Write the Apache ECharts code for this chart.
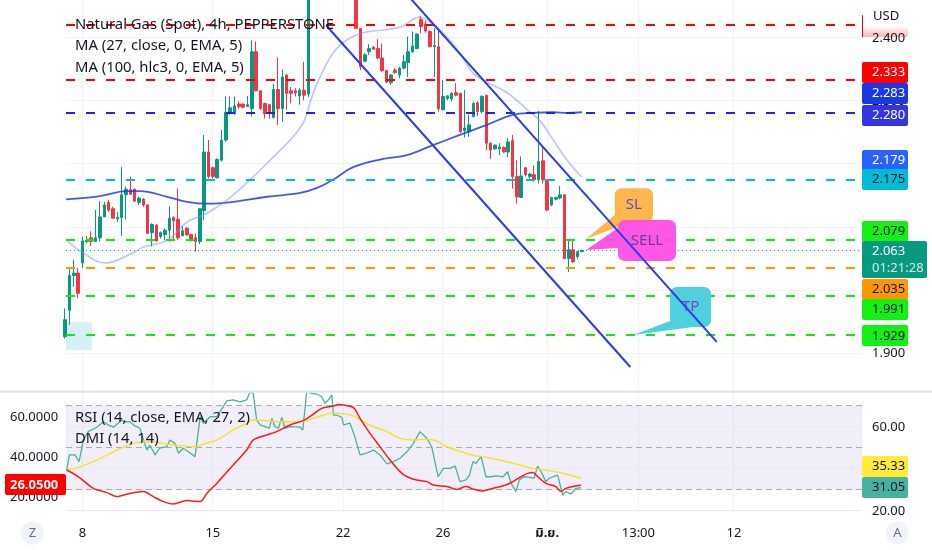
<!DOCTYPE html>
<html>
<head>
<meta charset="utf-8">
<script src="https://cdn.jsdelivr.net/npm/echarts@6/dist/echarts.min.js"></script>
<style>
html,body{margin:0;padding:0;background:#ffffff;}
#chart{width:932px;height:550px;}
</style>
</head>
<body>
<div id="chart"></div>
<script>
// ================= DATA =================
// candles: [barIndex, open, close, low, high]
const candles = [
[0,1.926,1.953,1.923,1.971],[1,1.968,2.023,1.945,2.035],[2,2.023,2.027,2.005,2.048],[3,2.027,1.995,1.987,2.035],
[4,2.043,2.078,2.035,2.085],[5,2.077,2.079,2.074,2.086],[6,2.083,2.077,2.070,2.093],[7,2.077,2.083,2.077,2.127],
[8,2.083,2.116,2.077,2.141],[9,2.116,2.135,2.116,2.140],[10,2.139,2.127,2.124,2.143],[11,2.129,2.114,2.114,2.132],
[12,2.113,2.115,2.108,2.124],[13,2.115,2.151,2.086,2.195],[14,2.151,2.160,2.112,2.164],[15,2.159,2.152,2.151,2.180],
[16,2.160,2.141,2.140,2.161],[17,2.139,2.146,2.135,2.148],[18,2.144,2.135,2.132,2.146],[19,2.135,2.090,2.089,2.136],
[20,2.091,2.104,2.069,2.106],[21,2.103,2.078,2.077,2.105],[22,2.085,2.091,2.082,2.093],[23,2.088,2.095,2.079,2.098],
[24,2.095,2.114,2.077,2.133],[25,2.115,2.110,2.079,2.117],[26,2.112,2.083,2.079,2.161],[27,2.086,2.094,2.086,2.102],
[28,2.098,2.088,2.086,2.100],[29,2.088,2.079,2.077,2.088],[30,2.083,2.077,2.061,2.090],[31,2.077,2.129,2.073,2.130],
[32,2.126,2.219,2.111,2.246],[33,2.219,2.180,2.177,2.238],[34,2.194,2.180,2.177,2.196],[35,2.178,2.207,2.177,2.209],
[36,2.206,2.238,2.204,2.254],[37,2.238,2.282,2.235,2.307],[38,2.280,2.289,2.278,2.307],[39,2.280,2.292,2.278,2.307],
[40,2.295,2.291,2.288,2.299],[41,2.295,2.290,2.288,2.296],[42,2.291,2.294,2.291,2.308],[43,2.288,2.378,2.275,2.396],
[44,2.378,2.316,2.315,2.394],[45,2.316,2.288,2.286,2.317],[46,2.296,2.280,2.272,2.297],[47,2.294,2.280,2.272,2.295],
[48,2.274,2.318,2.272,2.327],[49,2.318,2.288,2.262,2.369],[50,2.288,2.338,2.267,2.350],[51,2.341,2.312,2.286,2.343],
[52,2.316,2.312,2.296,2.322],[53,2.316,2.313,2.307,2.320],[54,2.308,2.317,2.294,2.320],[55,2.317,2.309,2.301,2.362],
[56,2.311,2.490,2.306,2.500],[57,2.490,2.530,2.475,2.545],[58,2.530,2.570,2.520,2.580],[59,2.570,2.550,2.540,2.590],
[60,2.550,2.600,2.540,2.620],[61,2.600,2.580,2.560,2.630],[62,2.580,2.560,2.540,2.600],[63,2.560,2.570,2.530,2.590],
[64,2.570,2.530,2.520,2.580],[65,2.530,2.500,2.490,2.550],[66,2.500,2.480,2.470,2.520],[67,2.480,2.415,2.414,2.490],
[68,2.415,2.354,2.349,2.415],[69,2.363,2.373,2.362,2.376],[70,2.378,2.383,2.373,2.390],[71,2.385,2.382,2.381,2.387],
[72,2.383,2.368,2.366,2.398],[73,2.368,2.348,2.346,2.391],[74,2.348,2.330,2.328,2.349],[75,2.329,2.341,2.325,2.343],
[76,2.349,2.345,2.343,2.352],[77,2.341,2.352,2.336,2.354],[78,2.352,2.362,2.350,2.373],[79,2.361,2.378,2.338,2.402],
[80,2.378,2.387,2.376,2.410],[81,2.383,2.406,2.382,2.407],[82,2.429,2.418,2.407,2.435],[83,2.422,2.411,2.408,2.427],
[84,2.410,2.386,2.385,2.412],[85,2.386,2.388,2.338,2.415],[86,2.386,2.288,2.283,2.415],[87,2.286,2.307,2.286,2.333],
[88,2.304,2.308,2.301,2.309],[89,2.303,2.312,2.299,2.314],[90,2.313,2.309,2.307,2.328],[91,2.312,2.251,2.249,2.313],
[92,2.253,2.257,2.242,2.317],[93,2.251,2.262,2.243,2.278],[94,2.275,2.296,2.274,2.299],[95,2.297,2.283,2.276,2.299],
[96,2.283,2.307,2.280,2.309],[97,2.309,2.233,2.222,2.309],[98,2.233,2.222,2.208,2.234],[99,2.224,2.230,2.222,2.230],
[100,2.224,2.227,2.214,2.233],[101,2.226,2.219,2.218,2.228],[102,2.219,2.235,2.211,2.241],[103,2.237,2.180,2.161,2.246],
[104,2.180,2.148,2.137,2.206],[105,2.147,2.181,2.146,2.212],[106,2.194,2.183,2.180,2.195],[107,2.180,2.184,2.177,2.186],
[108,2.183,2.175,2.172,2.198],[109,2.175,2.204,2.169,2.284],[110,2.205,2.175,2.169,2.227],[111,2.175,2.127,2.125,2.175],
[112,2.135,2.147,2.133,2.148],[113,2.144,2.147,2.143,2.148],[114,2.146,2.151,2.144,2.165],[115,2.151,2.050,2.049,2.152],
[116,2.050,2.064,2.029,2.079],[117,2.064,2.045,2.043,2.078],[118,2.053,2.061,2.049,2.062],[119,2.061,2.063,2.060,2.064]
];

// MA (27, close, EMA) and MA (100, hlc3, EMA) : [barIndex, value]
const ma27 = [[0.35,2.079],[4.1,2.059],[9.2,2.043],[15.6,2.059],[17.9,2.068],[23.5,2.079],[28.1,2.108],[32.7,2.122],
[37.3,2.143],[42.6,2.175],[47.9,2.211],[51.8,2.238],[54.8,2.265],[56.8,2.306],[58.7,2.338],[61.7,2.376],[64.9,2.397],
[68.6,2.408],[77.1,2.417],[81.7,2.433],[84.0,2.425],[87.0,2.408],[90.9,2.376],[93.9,2.344],[97.1,2.330],[101.8,2.313],
[106.4,2.286],[109.4,2.268],[112.4,2.238],[115.6,2.206],[119.0,2.179]];
const ma100 = [[0.2,2.144],[8.0,2.149],[14.2,2.157],[17.2,2.157],[23.5,2.148],[28.1,2.140],[32.7,2.137],[38.7,2.140],
[46.5,2.148],[54.1,2.154],[58.0,2.162],[61.7,2.175],[66.3,2.195],[73.2,2.208],[78.7,2.214],[84.7,2.230],[90.9,2.246],
[97.1,2.262],[103.1,2.278],[107.7,2.281],[112.4,2.282],[115.6,2.281],[119.0,2.282]];

// RSI (14), its EMA(27), DMI line : [barIndex, value]
const rsi = [[0.35,39.5],[0.96,46.7],[2.26,46.7],[3.2,43.5],[4.2,53.8],[5.3,57.8],[7.3,59.9],[8.8,62.5],[9.9,61],
[11.1,59.9],[12.2,61.8],[13.0,63.3],[13.8,62.5],[14.9,62.5],[16.1,60.5],[17.2,59.4],[18.8,49],[19.5,51.4],[20.7,46.7],
[21.8,49.9],[23.4,50.6],[24.1,53.8],[25.3,52.2],[26.1,47.5],[27.2,49.9],[28.4,48.2],[29.9,45.9],[30.7,58.6],[31.1,64.9],
[31.8,61.8],[33.4,64.9],[34.9,64.9],[36.4,69.7],[37.2,72.4],[38.7,72.9],[40.3,72],[41.8,72.9],[42.6,76.8],[43.3,76],
[44.1,63.3],[44.9,61],[46.4,59.9],[47.0,59.4],[47.6,64.1],[48.3,60.2],[49.1,59.4],[49.9,64.6],[50.6,59.4],[51.8,60.2],
[54.1,59.9],[54.7,58.6],[55.2,68.1],[55.6,76.8],[56.8,76],[57.9,75.7],[59.1,74.4],[59.8,71.3],[60.6,72.9],[61.4,75.2],
[61.8,65.7],[62.5,65.7],[63.7,64.6],[64.1,61],[65.6,61.8],[66.7,55.4],[67.9,46.7],[69.4,47.5],[71.0,49],[72.5,46.7],
[74.1,42.4],[75.6,43.5],[77.1,45.1],[78.7,48.2],[80.2,52.2],[81.7,57.8],[83.3,54.6],[84.4,50.6],[84.8,50.6],[85.9,36.3],
[87.1,40.3],[88.6,40.3],[89.8,41.4],[90.9,34],[92.3,34.8],[93.1,37.1],[93.9,43.5],[94.6,42.7],[95.8,45.9],[96.9,36.3],
[98.1,36.3],[99.2,36.7],[100.8,36.3],[101.9,38.7],[102.7,33.2],[103.8,29.2],[104.6,34.8],[105.7,36.3],[106.9,36],
[108.0,35.6],[108.8,41.4],[109.6,38.7],[110.7,34],[111.5,35.6],[112.3,36.3],[113.4,37.1],[113.8,37.9],[114.6,27.6],
[115.3,29.2],[116.5,28.1],[117.6,30.8],[118.8,31.1]];
const rsiMa = [[0.35,39.5],[3.0,40.8],[6.5,43.5],[11.1,48.2],[15.7,52.2],[19.5,53],[23.4,51.9],[27.2,51],[30.3,50.6],
[31.8,51.9],[34.9,53.8],[38.7,58.6],[41.8,61.8],[43.3,63.3],[46.4,63],[50.2,62.5],[54.1,62.5],[57.2,64.1],[60.2,66.2],
[61.8,66.8],[64.1,66.2],[66.4,65.2],[67.9,63.3],[71.0,60.2],[74.1,57.8],[77.1,54.6],[80.2,53.8],[82.5,54.1],[84.8,53.8],
[87.9,50.6],[92.3,47.5],[94.6,46.2],[96.2,45.9],[100.0,44.3],[103.8,42.4],[107.7,40.3],[111.5,39.2],[115.3,37.6],[118.8,35.6]];
const dmi = [[0.35,33.5],[3.0,30.2],[6.5,24.3],[9.6,22.2],[11.9,20.2],[14.9,21.8],[18.0,22.7],[20.3,20.2],[22.6,17.7],
[24.9,16.5],[28.0,18.2],[31.1,17.7],[32.6,21.8],[34.9,26.8],[38.7,36],[41.8,43.5],[43.3,48.5],[46.4,51],[48.7,52.7],
[51.8,56],[54.8,58.2],[57.2,61.5],[59.1,64.3],[61.8,65.5],[62.9,66.3],[64.1,66],[66.4,64.7],[67.9,59.3],[70.2,51.8],
[72.5,45.2],[74.8,38.5],[77.1,32.7],[78.7,30.2],[80.9,28.5],[83.3,27.7],[84.8,26],[87.9,25.2],[90.2,23.8],[92.3,25.2],
[93.9,24],[95.8,23],[98.5,24.3],[101.5,26],[103.1,27.7],[105.0,30.2],[106.5,31.8],[107.7,32.2],[108.8,30.2],[110.7,26.8],
[113.0,25.2],[114.2,22.7],[115.3,24.3],[117.6,25.5],[118.8,26.05]];

// horizontal drawings, current price, channel, callouts, zone
const levelValues = [2.420, 2.333, 2.281, 2.175, 2.079, 2.035, 1.991, 1.929];
const lastPrice = 2.063;
const clockText = '01:21:28';
const channelUpper = [[75.7, 2.492], [150.05, 1.918]];
const channelLower = [[60.07, 2.420], [130.15, 1.878]];
const calloutText = ['SL', 'SELL', 'TP'];
const calloutBox = [[126.56, 2.1614, 135.38, 2.1079], [127.3, 2.1111, 140.68, 2.0460], [139.3, 2.0048, 148.74, 1.9414]];
const calloutTip = [[119.95, 2.081], [119.95, 2.0635], [130.8, 1.9287]];
const zoneBox = [0.19, 1.949, 6.18, 1.905];

// axis ticks and tags
const priceTicks = [1.9, 2.0, 2.1, 2.2, 2.3, 2.4];
const rsiTicks = [20, 40, 60];
const dmiTicks = [20, 40, 60];
const rsiBands = [30, 50, 70];
const timeTickIndex = [4, 34, 64, 87, 111, 132, 154];
const timeTickLabels = ['8', '15', '22', '26', 'มิ.ย.', '13:00', '12'];
const priceTagValues = [2.333, 2.283, 2.280, 2.179, 2.175, 2.079, 2.063, 2.035, 1.991, 1.929];
const rsiTagValues = [35.33, 31.05];
const dmiTagValue = 26.05;

// ================= STYLE =================
const FONT = '"Noto Sans", "Noto Sans Thai", "DejaVu Sans", sans-serif';
const X_MIN = 0.19, X_MAX = 183.5;
const UP = '#089981', DOWN = '#f23645', TXT = '#131722', GRIDC = '#f0f3fa';
const levelColors = ['#ff0000', '#ff0000', '#2424e0', '#00bcd4', '#14e814', '#ff9800', '#14e814', '#14e814'];
const tagBg = ['#ff0000', '#1a38e8', '#3434e2', '#2962ff', '#00bcd4', '#14f014', '#089981', '#ff9800', '#14f014', '#14f014'];
const tagFg = ['#ffffff', '#ffffff', '#ffffff', '#ffffff', TXT, TXT, '#ffffff', TXT, TXT, TXT];
const tagShift = [-8, -18, 1.5, -17, 0, -9, 9.2, 21, 14, 1];
const calloutStyle = [
  {fill: '#ffb74d', color: '#5b4bc4', ax: 0, ay: -7, bx: 16, by: 0},
  {fill: 'rgba(252,74,227,0.93)', color: '#713a9e', ax: 0, ay: -33, bx: 0, by: -13},
  {fill: '#4fd0df', color: '#7744c4', ax: 0, ay: -6, bx: 23, by: 0}
];

function txt(text, x, y, color, font, align) {
  return {type: 'text', style: {text: text, x: x, y: y, fill: color || TXT, font: font || ('13px ' + FONT),
    align: align || 'left', verticalAlign: 'middle'}};
}

function hLines(xi, yi, values, styleAt, z) {
  return {
    type: 'custom', xAxisIndex: xi, yAxisIndex: yi, z: z, silent: true, clip: true,
    data: values.map(v => [X_MIN + 1, v]), encode: {x: 0, y: 1},
    renderItem: function (params, api) {
      const cs = params.coordSys;
      const st = styleAt(params.dataIndex);
      let y = api.coord([api.value(0), api.value(1)])[1];
      if ((st.lineWidth || 1) % 2 === 1) y = Math.round(y - 0.5) + 0.5; else y = Math.round(y);
      return {type: 'line', shape: {x1: cs.x, y1: y, x2: cs.x + cs.width, y2: y},
        style: Object.assign({fill: null}, st)};
    }
  };
}
function vLines(xi, yi, yRef, z) {
  return {
    type: 'custom', xAxisIndex: xi, yAxisIndex: yi, z: z, silent: true, clip: true,
    data: timeTickIndex.map(i => [i, yRef]), encode: {x: 0, y: 1},
    renderItem: function (params, api) {
      const cs = params.coordSys;
      const x = Math.round(api.coord([api.value(0), api.value(1)])[0] - 0.5) + 0.5;
      return {type: 'line', shape: {x1: x, y1: cs.y, x2: x, y2: cs.y + cs.height},
        style: {stroke: GRIDC, lineWidth: 1, fill: null}};
    }
  };
}
function tagSeries(xi, yi, items, z) {
  return {
    type: 'custom', xAxisIndex: xi, yAxisIndex: yi, z: z, silent: true, clip: false,
    data: items.map(it => [X_MIN + 1, it.v]), encode: {x: 0, y: 1},
    renderItem: function (params, api) {
      const it = items[params.dataIndex];
      const cs = params.coordSys;
      const yv = api.coord([api.value(0), api.value(1)])[1];
      const yc = yv + (it.dy || 0);
      const h = it.h || 21, w = it.w || 46;
      const x0 = it.left ? 5 : cs.x + cs.width;
      const ch = [];
      if (it.bg) ch.push({type: 'rect', shape: {x: x0, y: Math.round(yc - h / 2), width: w, height: h, r: 2}, style: {fill: it.bg}});
      if (it.mark) ch.push({type: 'line', shape: {x1: x0 + 0.5, y1: yv - 10, x2: x0 + 0.5, y2: yv + 12}, style: {stroke: '#ff0000', lineWidth: 1}});
      const tx = it.left ? 10 : x0 + 10;
      const font = (it.bold ? 'bold ' : '') + '13px ' + FONT;
      if (it.sub) {
        ch.push(txt(it.text, tx, yc - 8, it.fg, font));
        ch.push(txt(it.sub, tx, yc + 9, 'rgba(255,255,255,0.82)', font));
      } else if (it.text) {
        ch.push(txt(it.text, tx, yc, it.fg || TXT, font));
      }
      return {type: 'group', children: ch};
    }
  };
}

// main-pane tags (first the faded top one, then ticks, then value tags)
const mainTags = [];
mainTags.push({v: levelValues[0], dy: 7.2, h: 10, mark: true,
  bg: new echarts.graphic.LinearGradient(0, 0, 0, 1, [{offset: 0, color: 'rgba(255,90,90,0.05)'}, {offset: 1, color: 'rgba(255,90,90,0.45)'}])});
priceTicks.forEach(v => mainTags.push({v: v, text: v.toFixed(3), fg: TXT}));
priceTagValues.forEach((v, k) => {
  const t = {v: v, text: v.toFixed(3), bg: tagBg[k], fg: tagFg[k], dy: tagShift[k]};
  if (Math.abs(v - lastPrice) < 1e-9) { t.sub = clockText; t.h = 37; t.w = 65; }
  mainTags.push(t);
});
const rsiTags = [];
rsiTicks.forEach(v => rsiTags.push({v: v, text: v.toFixed(2), fg: TXT}));
rsiTags.push({v: rsiTagValues[0], text: rsiTagValues[0].toFixed(2), bg: '#ffeb3b', fg: TXT, dy: -12.8});
rsiTags.push({v: rsiTagValues[1], text: rsiTagValues[1].toFixed(2), bg: '#45b39f', fg: TXT, dy: 0});
const dmiTags = [];
dmiTicks.forEach(v => dmiTags.push({v: v, text: v.toFixed(4), fg: TXT, left: true}));
dmiTags.push({v: dmiTagValue, text: dmiTagValue.toFixed(4), bg: '#ff0000', fg: '#ffffff', left: true, w: 61, bold: true});

const series = [
  vLines(0, 0, 2.0, 0),
  hLines(0, 0, priceTicks, () => ({stroke: GRIDC, lineWidth: 1}), 0),
  { // light zone rectangle
    type: 'custom', xAxisIndex: 0, yAxisIndex: 0, z: 1, silent: true, clip: true,
    data: [[zoneBox[0], zoneBox[1]]], encode: {x: 0, y: 1},
    renderItem: function (params, api) {
      const a = api.coord([zoneBox[0], zoneBox[1]]), b = api.coord([zoneBox[2], zoneBox[3]]);
      return {type: 'rect', shape: {x: a[0], y: a[1], width: b[0] - a[0], height: b[1] - a[1]}, style: {fill: '#d4f2f6'}};
    }
  },
  {
    type: 'candlestick', name: 'Natural Gas', xAxisIndex: 0, yAxisIndex: 0, z: 3, clip: true,
    data: candles, encode: {x: 0, y: [1, 2, 3, 4]}, barWidth: 3,
    itemStyle: {color: UP, color0: DOWN, borderColor: UP, borderColor0: DOWN, borderWidth: 1}
  },
  {type: 'line', name: 'MA100', xAxisIndex: 0, yAxisIndex: 0, z: 4, data: ma100, symbol: 'none', smooth: 0.4,
    lineStyle: {color: 'rgba(40,58,230,0.85)', width: 1.8}},
  {type: 'line', name: 'MA27', xAxisIndex: 0, yAxisIndex: 0, z: 4, data: ma27, symbol: 'none', smooth: 0.4,
    lineStyle: {color: 'rgba(120,145,250,0.5)', width: 1.7}},
  hLines(0, 0, levelValues, k => ({stroke: levelColors[k], lineWidth: 2, lineDash: [9, 11]}), 5),
  hLines(0, 0, [lastPrice], () => ({stroke: UP, lineWidth: 1, lineDash: [1, 3]}), 5),
  { // callouts
    type: 'custom', xAxisIndex: 0, yAxisIndex: 0, z: 6, silent: true, clip: true,
    data: calloutTip.map(t => [t[0], t[1]]), encode: {x: 0, y: 1},
    renderItem: function (params, api) {
      const k = params.dataIndex, b = calloutBox[k], s = calloutStyle[k];
      const p1 = api.coord([b[0], b[1]]), p2 = api.coord([b[2], b[3]]), pt = api.coord(calloutTip[k]);
      const L = p1[0], T = p1[1], R = p2[0], B = p2[1];
      return {type: 'group', children: [
        {type: 'polygon', shape: {points: [pt, [L + s.ax, B + s.ay], [L + s.bx, B + s.by]]}, style: {fill: s.fill}},
        {type: 'rect', shape: {x: L, y: T, width: R - L, height: B - T, r: 7}, style: {fill: s.fill}},
        txt(calloutText[k], (L + R) / 2, (T + B) / 2, s.color, '15px ' + FONT, 'center')
      ]};
    }
  },
  {type: 'line', xAxisIndex: 0, yAxisIndex: 0, z: 7, data: channelUpper, symbol: 'none', silent: true,
    lineStyle: {color: '#2b3de6', width: 2}},
  {type: 'line', xAxisIndex: 0, yAxisIndex: 0, z: 7, data: channelLower, symbol: 'none', silent: true,
    lineStyle: {color: '#2b3de6', width: 2}},
  tagSeries(0, 0, mainTags, 8),

  // ---- RSI / DMI pane ----
  vLines(1, 1, 40, 0),
  { // RSI band 30..70
    type: 'custom', xAxisIndex: 1, yAxisIndex: 1, z: 0, silent: true, clip: true,
    data: [[X_MIN + 1, rsiBands[2]]], encode: {x: 0, y: 1},
    renderItem: function (params, api) {
      const cs = params.coordSys;
      const a = api.coord([X_MIN + 1, rsiBands[2]])[1], b = api.coord([X_MIN + 1, rsiBands[0]])[1];
      return {type: 'rect', shape: {x: cs.x, y: a, width: cs.width, height: b - a}, style: {fill: 'rgba(126,87,194,0.1)'}};
    }
  },
  hLines(1, 1, rsiTicks, () => ({stroke: '#e9e9f0', lineWidth: 1}), 1),
  hLines(1, 1, rsiBands, () => ({stroke: '#a9abb3', lineWidth: 1, lineDash: [6, 4]}), 1),
  {type: 'line', name: 'RSI', xAxisIndex: 1, yAxisIndex: 1, z: 4, data: rsi, symbol: 'none',
    lineStyle: {color: '#47b39d', width: 1.3}},
  {type: 'line', name: 'RSI MA', xAxisIndex: 1, yAxisIndex: 1, z: 4, data: rsiMa, symbol: 'none', smooth: 0.4,
    lineStyle: {color: '#f7e026', width: 1.4}},
  {type: 'line', name: 'DMI', xAxisIndex: 1, yAxisIndex: 2, z: 4, data: dmi, symbol: 'none', smooth: 0.3,
    lineStyle: {color: '#ff1a1a', width: 1.5}},
  tagSeries(1, 1, rsiTags, 8),
  tagSeries(1, 2, dmiTags, 8),
  { // time axis labels
    type: 'custom', xAxisIndex: 1, yAxisIndex: 1, z: 8, silent: true, clip: false,
    data: timeTickIndex.map(i => [i, 40]), encode: {x: 0, y: 1},
    renderItem: function (params, api) {
      const cs = params.coordSys;
      const x = api.coord([api.value(0), api.value(1)])[0];
      const lab = timeTickLabels[params.dataIndex];
      const bold = lab === 'มิ.ย.';
      return txt(lab, x, cs.y + cs.height + 21, TXT, (bold ? 'bold ' : '') + '13px ' + FONT, 'center');
    }
  }
];

const option = {
  backgroundColor: '#ffffff',
  animation: false,
  tooltip: {show: false},
  grid: [
    {left: 66, right: 70, top: 0, height: 391},
    {left: 66, right: 70, top: 393, height: 119}
  ],
  xAxis: [
    {type: 'value', gridIndex: 0, min: X_MIN, max: X_MAX, show: false},
    {type: 'value', gridIndex: 1, min: X_MIN, max: X_MAX, show: false}
  ],
  yAxis: [
    {type: 'value', gridIndex: 0, min: 1.84, max: 2.46, show: false},
    {type: 'value', gridIndex: 1, min: 19.52, max: 76.19, show: false},
    {type: 'value', gridIndex: 1, min: 12.5, max: 72, show: false}
  ],
  series: series,
  graphic: [
    {type: 'rect', z: 20, shape: {x: 0, y: 390.5, width: 932, height: 2.2}, style: {fill: '#e0e3eb'}},
    {type: 'text', z: 20, x: 75, y: 24.5, style: {text: 'Natural Gas (Spot), 4h, PEPPERSTONE', font: '14.8px ' + FONT, fill: TXT, verticalAlign: 'middle'}},
    {type: 'text', z: 20, x: 75, y: 46, style: {text: 'MA (27, close, 0, EMA, 5)', font: '14.8px ' + FONT, fill: TXT, verticalAlign: 'middle'}},
    {type: 'text', z: 20, x: 75, y: 67.5, style: {text: 'MA (100, hlc3, 0, EMA, 5)', font: '14.8px ' + FONT, fill: TXT, verticalAlign: 'middle'}},
    {type: 'text', z: 20, x: 75, y: 417.5, style: {text: 'RSI (14, close, EMA, 27, 2)', font: '14.8px ' + FONT, fill: TXT, verticalAlign: 'middle'}},
    {type: 'text', z: 20, x: 75, y: 439, style: {text: 'DMI (14, 14)', font: '14.8px ' + FONT, fill: TXT, verticalAlign: 'middle'}},
    {type: 'text', z: 20, x: 873, y: 16, style: {text: 'USD', font: '13px ' + FONT, fill: TXT, verticalAlign: 'middle'}},
    {type: 'circle', z: 20, shape: {cx: 32.5, cy: 533, r: 11.5}, style: {fill: '#f0f3fa'}},
    {type: 'text', z: 21, x: 32.5, y: 533, style: {text: 'Z', font: '13px ' + FONT, fill: '#6a6d78', align: 'center', verticalAlign: 'middle'}},
    {type: 'circle', z: 20, shape: {cx: 897.5, cy: 533, r: 11.5}, style: {fill: '#f0f3fa'}},
    {type: 'text', z: 21, x: 897.5, y: 533, style: {text: 'A', font: '13px ' + FONT, fill: '#6a6d78', align: 'center', verticalAlign: 'middle'}}
  ]
};

const chart = echarts.init(document.getElementById('chart'), null, {renderer: 'canvas', width: 932, height: 550});
chart.setOption(option);
</script>
</body>
</html>
